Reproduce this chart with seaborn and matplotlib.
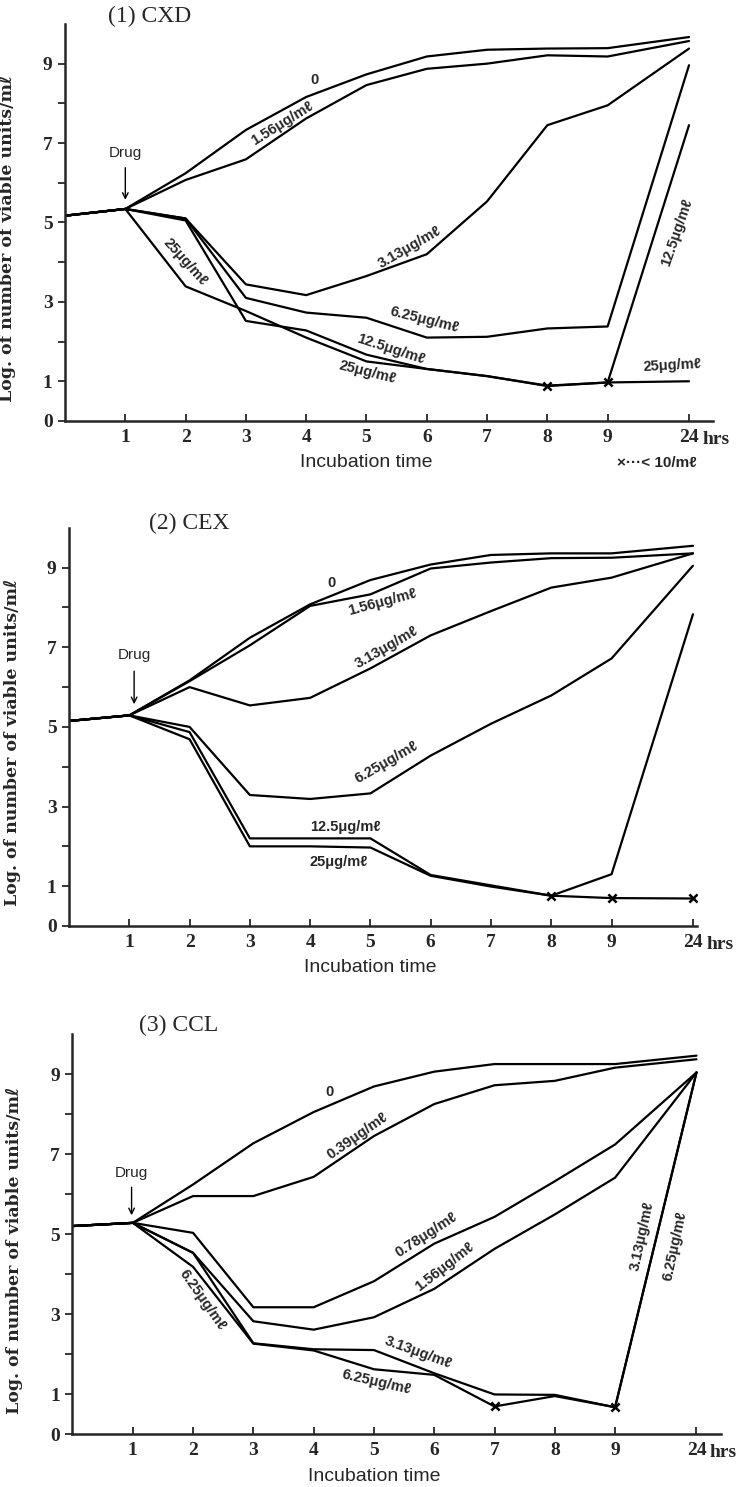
import matplotlib
matplotlib.use("Agg")
import pandas as pd
import matplotlib.pyplot as plt
import seaborn as sns

# Viable counts (log)
hours = [0, 1, 2, 3, 4, 5, 6, 7, 8, 9, 24]
tick_hours = [1, 2, 3, 4, 5, 6, 7, 8, 9, 24]
tick_labels = ["1", "2", "3", "4", "5", "6", "7", "8", "9", "24"]

cxd_conc = ["0", "1.56", "3.13", "6.25", "12.5", "25"]
cxd_0 = [5.17, 5.34, 6.24, 7.33, 8.16, 8.73, 9.18, 9.35, 9.38, 9.39, 9.67]
cxd_156 = [5.17, 5.34, 6.07, 6.59, 7.62, 8.46, 8.87, 9.00, 9.21, 9.18, 9.57]
cxd_313 = [5.17, 5.34, 5.10, 3.44, 3.17, 3.65, 4.20, 5.53, 7.45, 7.95, 9.38]
cxd_625 = [5.17, 5.34, 5.10, 3.10, 2.73, 2.60, 2.10, 2.12, 2.33, 2.38, 8.96]
cxd_125 = [5.17, 5.34, 5.05, 2.52, 2.28, 1.67, 1.31, 1.13, 0.89, 0.97, 7.45]
cxd_25 = [5.17, 5.34, 3.39, 2.77, 2.10, 1.50, 1.31, 1.13, 0.88, 0.97, 1.00]
cxd_below = {"25": [8, 9]}

cex_conc = ["0", "1.56", "3.13", "6.25", "12.5", "25"]
cex_0 = [5.15, 5.29, 6.17, 7.24, 8.08, 8.69, 9.08, 9.32, 9.36, 9.36, 9.55]
cex_156 = [5.15, 5.29, 6.15, 7.05, 8.04, 8.33, 8.98, 9.13, 9.24, 9.25, 9.36]
cex_313 = [5.15, 5.29, 6.00, 5.54, 5.73, 6.47, 7.30, 7.91, 8.50, 8.75, 9.36]
cex_625 = [5.15, 5.29, 5.00, 3.29, 3.19, 3.33, 4.28, 5.08, 5.79, 6.72, 9.05]
cex_125 = [5.15, 5.29, 4.87, 2.20, 2.20, 2.20, 1.28, 1.02, 0.76, 1.30, 7.83]
cex_25 = [5.15, 5.29, 4.69, 2.00, 2.00, 1.97, 1.26, 0.99, 0.76, 0.70, 0.69]
cex_below = {"25": [8, 9, 24]}

ccl_conc = ["0", "0.39", "0.78", "1.56", "3.13", "6.25"]
ccl_0 = [5.20, 5.28, 6.24, 7.27, 8.05, 8.69, 9.06, 9.25, 9.25, 9.25, 9.46]
ccl_039 = [5.20, 5.28, 5.95, 5.95, 6.43, 7.45, 8.25, 8.72, 8.83, 9.16, 9.37]
ccl_078 = [5.20, 5.28, 5.03, 3.17, 3.17, 3.82, 4.76, 5.43, 6.32, 7.24, 9.04]
ccl_156 = [5.20, 5.28, 4.53, 2.82, 2.61, 2.92, 3.63, 4.63, 5.49, 6.41, 9.04]
ccl_313 = [5.20, 5.28, 4.53, 2.27, 2.12, 2.10, 1.52, 0.99, 0.98, 0.67, 9.04]
ccl_625 = [5.20, 5.28, 4.18, 2.26, 2.09, 1.62, 1.48, 0.69, 0.95, 0.67, 9.04]
ccl_below = {"6.25": [7, 9]}

UNIT = "μg/mℓ"


def hour_pos(h):
    # 24 h sits closer to 9 h than a linear axis would put it
    return h if h <= 9 else 10.35


def make_frame(conc, series):
    rows = []
    for c, vals in zip(conc, series):
        for h, v in zip(hours, vals):
            rows.append({"conc": c, "hour": h, "pos": hour_pos(h), "log_count": v})
    return pd.DataFrame(rows)


sns.set_style("ticks")
plt.rcParams["font.family"] = ["Liberation Serif", "DejaVu Sans"]

fig = plt.figure(figsize=(7.39, 14.87), dpi=100)

panels = [
    {"title": "(1) CXD", "conc": cxd_conc,
     "series": [cxd_0, cxd_156, cxd_313, cxd_625, cxd_125, cxd_25],
     "below": cxd_below, "rect": [0.088, 0.7169, 0.877, 0.267], "xmax": 10.75,
     "title_xy": (1.4, 10.2), "drug": (1.0, 6.75, 6.45, 5.5),
     "labels": [("0", 4.13, 8.58, 0), ("1.56" + UNIT, 3.61, 7.49, 32),
                ("3.13" + UNIT, 5.71, 4.38, 30), ("6.25" + UNIT, 5.96, 2.56, -14),
                ("12.5" + UNIT, 5.41, 1.80, -18), ("25" + UNIT, 5.02, 1.23, -14),
                ("25" + UNIT, 2.0, 4.0, -48), ("12.5" + UNIT, 10.15, 4.74, 71),
                ("25" + UNIT, 10.08, 1.39, 3)]},
    {"title": "(2) CEX", "conc": cex_conc,
     "series": [cex_0, cex_156, cex_313, cex_625, cex_125, cex_25],
     "below": cex_below, "rect": [0.0934, 0.3773, 0.850, 0.2677], "xmax": 10.42,
     "title_xy": (2.0, 10.1), "drug": (1.08, 6.8, 6.47, 5.5),
     "labels": [("0", 4.35, 8.62, 0), ("1.56" + UNIT, 5.19, 8.14, 15),
                ("3.13" + UNIT, 5.27, 7.01, 30), ("6.25" + UNIT, 5.27, 4.11, 30),
                ("12.5" + UNIT, 4.58, 2.49, 0), ("25" + UNIT, 4.47, 1.60, 0)]},
    {"title": "(3) CCL", "conc": ccl_conc,
     "series": [ccl_0, ccl_039, ccl_078, ccl_156, ccl_313, ccl_625],
     "below": ccl_below, "rect": [0.0981, 0.0356, 0.877, 0.269], "xmax": 10.75,
     "title_xy": (1.76, 10.21), "drug": (0.98, 6.53, 6.24, 5.4),
     "labels": [("0", 4.26, 8.54, 0), ("0.39" + UNIT, 4.73, 7.45, 35),
                ("0.78" + UNIT, 5.86, 4.99, 33), ("1.56" + UNIT, 6.17, 4.19, 38),
                ("6.25" + UNIT, 2.15, 3.36, -55), ("3.13" + UNIT, 5.74, 2.04, -20),
                ("6.25" + UNIT, 5.04, 1.31, -13), ("3.13" + UNIT, 9.45, 4.95, 78),
                ("6.25" + UNIT, 10.0, 4.7, 78)]},
]

sans = ["Liberation Sans", "DejaVu Sans"]
label_font = dict(family=sans, weight="bold", size=10.5)

for i, p in enumerate(panels):
    ax = fig.add_axes(p["rect"])
    df = make_frame(p["conc"], p["series"])
    sns.lineplot(data=df, x="pos", y="log_count", hue="conc", estimator=None, sort=False,
                 palette={c: "black" for c in p["conc"]}, legend=False, linewidth=1.6, ax=ax)

    marks = df[df.apply(lambda r: r["hour"] in p["below"].get(r["conc"], []), axis=1)]
    sns.scatterplot(data=marks, x="pos", y="log_count", marker="x", color="black",
                    s=35, linewidth=1.8, legend=False, ax=ax, zorder=4)

    ax.set_xlim(0, p["xmax"])
    ax.set_ylim(0, 10)
    ax.set_xticks([hour_pos(h) for h in tick_hours])
    ax.set_xticklabels(tick_labels, fontsize=14, fontweight="bold")
    ax.set_yticks(range(0, 10))
    ax.set_yticklabels(["0", "1", "", "3", "", "5", "", "7", "", "9"],
                       fontsize=14, fontweight="bold")
    ax.tick_params(axis="x", direction="in", length=5, width=1.3, pad=6)
    ax.tick_params(axis="y", direction="out", length=5, width=1.3, pad=4)
    sns.despine(ax=ax)
    for s in ["left", "bottom"]:
        ax.spines[s].set_linewidth(1.8)
    ax.set_xlabel("")
    ax.set_ylabel("Log. of number of viable units/mℓ", fontsize=12.5, fontweight="bold",
                  family=["DejaVu Serif", "DejaVu Sans"])
    ax.yaxis.set_label_coords(-0.076, 0.46)

    ax.annotate("hrs", xy=(hour_pos(24), 0), xycoords=("data", "axes fraction"),
                xytext=(9.5, -7), textcoords="offset points", ha="left", va="top",
                fontsize=14, fontweight="bold")
    ax.text(5.0, -1.05, "Incubation time", ha="center", va="center", fontsize=14,
            family=sans, clip_on=False)

    tx, ty = p["title_xy"]
    ax.text(tx, ty, p["title"], ha="center", va="center", fontsize=17, clip_on=False)

    dx, dy, a0, a1 = p["drug"]
    ax.text(dx, dy, "Drug", ha="center", va="center", fontsize=11, family=sans)
    ax.annotate("", xy=(dx, a1), xytext=(dx, a0),
                arrowprops=dict(arrowstyle="->", color="black", lw=1.0))

    for txt, lx, ly, rot in p["labels"]:
        ax.text(lx, ly, txt, ha="center", va="center", rotation=rot,
                rotation_mode="anchor", **label_font)

    if i == 0:
        ax.text(9.82, -1.05, "×···< 10/mℓ", ha="center", va="center", fontsize=11,
                fontweight="bold", family=sans, clip_on=False)

fig.savefig("out.png", dpi=100)
